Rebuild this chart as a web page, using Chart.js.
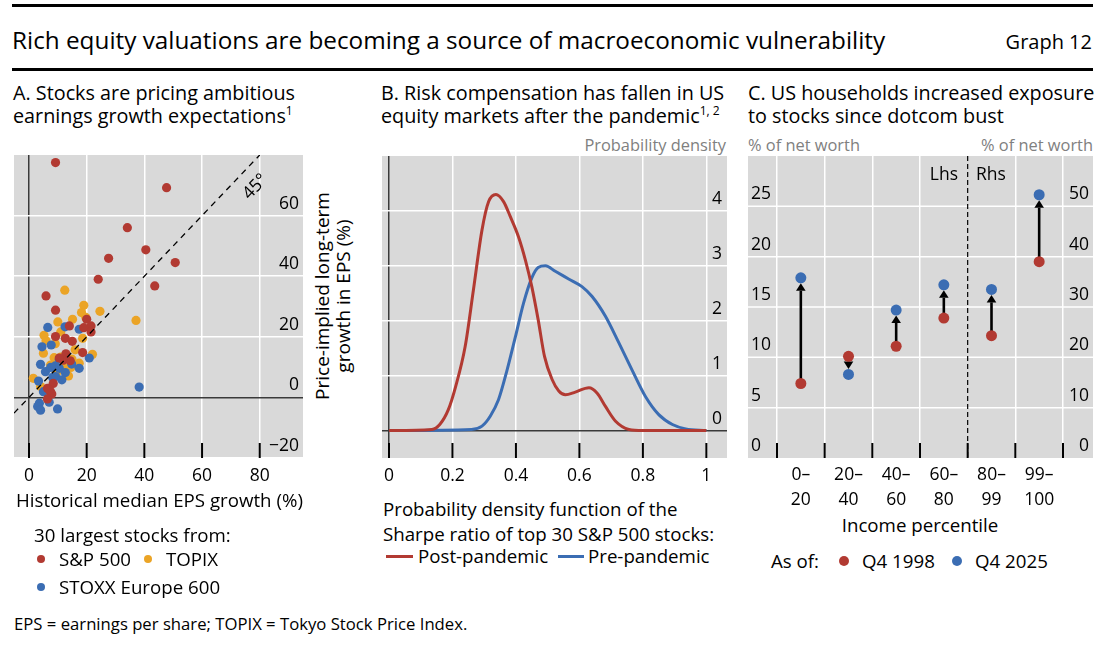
<!DOCTYPE html>
<html>
<head>
<meta charset="utf-8">
<script src="https://cdn.jsdelivr.net/npm/chart.js"></script>
<title>Graph 12</title>
<style>
  body { margin:0; width:1120px; height:646px; position:relative; overflow:hidden; background:#fff;
         font-family:'Open Sans', sans-serif; color:#000; }
  .t { position:absolute; white-space:nowrap; }
  .rule { position:absolute; left:12px; width:1081px; height:3px; background:#000; }
  .box { position:absolute; }
  .ptitle { font-size:19.8px; line-height:23px; }
  .unit { color:#808080; font-size:16.4px; line-height:20px; top:135px; }
  .lg { font-size:18.7px; line-height:22px; }
  .dot { position:absolute; border-radius:50%; }
  .sup { font-size:12px; vertical-align:8px; line-height:0; }
</style>
</head>
<body>
<div class="rule" style="top:4px"></div>
<div class="t" style="left:12px;top:26px;font-size:24.3px;line-height:28px">Rich equity valuations are becoming a source of macroeconomic vulnerability</div>
<div class="t" style="right:28px;top:28.5px;font-size:20px;line-height:26px">Graph 12</div>
<div class="rule" style="top:67.5px"></div>

<div class="t ptitle" style="left:13px;top:81px">A. Stocks are pricing ambitious<br>earnings growth expectations<span class="sup">1</span></div>
<div class="t ptitle" style="left:381px;top:81px">B. Risk compensation has fallen in US<br>equity markets after the pandemic<span class="sup">1, 2</span></div>
<div class="t ptitle" style="left:748px;top:81px">C. US households increased exposure<br>to stocks since dotcom bust</div>

<div class="t unit" style="right:394px">Probability density</div>
<div class="t unit" style="left:748px">% of net worth</div>
<div class="t unit" style="right:27px">% of net worth</div>

<div class="box" style="left:14px;top:155px;width:289px;height:335px"><canvas id="cA"></canvas></div>
<div class="box" style="left:382px;top:156px;width:345px;height:334px"><canvas id="cB"></canvas></div>
<div class="box" style="left:748px;top:156px;width:345px;height:356px"><canvas id="cC"></canvas></div>

<div class="t" style="left:333px;top:297px;width:0;height:0">
  <div style="position:absolute;left:-120px;top:-22px;width:240px;text-align:center;transform:rotate(-90deg);font-size:19px;line-height:21px">Price-implied long-term<br>growth in EPS (%)</div>
</div>

<div class="t lg" style="left:16px;top:489px">Historical median EPS growth (%)</div>
<div class="t lg" style="left:34px;top:524px">30 largest stocks from:</div>
<div class="dot" style="left:37px;top:555px;width:8px;height:8px;background:#b23a32"></div>
<div class="t lg" style="left:59px;top:548px">S&amp;P 500</div>
<div class="dot" style="left:144px;top:555px;width:8px;height:8px;background:#eba426"></div>
<div class="t lg" style="left:166px;top:548px">TOPIX</div>
<div class="dot" style="left:37px;top:583px;width:8px;height:8px;background:#3b6db3"></div>
<div class="t lg" style="left:59px;top:576px">STOXX Europe 600</div>

<div class="t lg" style="left:383px;top:496px;line-height:25px">Probability density function of the<br>Sharpe ratio of top 30 S&amp;P 500 stocks:</div>
<div style="position:absolute;left:386px;top:554.5px;width:27px;height:3px;background:#b23a32"></div>
<div class="t lg" style="left:418px;top:545px">Post-pandemic</div>
<div style="position:absolute;left:558px;top:554.5px;width:26px;height:3px;background:#3b6db3"></div>
<div class="t lg" style="left:588px;top:545px">Pre-pandemic</div>

<div class="t lg" style="left:820px;top:514px;width:200px;text-align:center">Income percentile</div>
<div class="t lg" style="left:771px;top:550px">As of:</div>
<div class="dot" style="left:839px;top:556px;width:10px;height:10px;background:#b23a32"></div>
<div class="t lg" style="left:862px;top:550px">Q4 1998</div>
<div class="dot" style="left:952px;top:556px;width:10px;height:10px;background:#3b6db3"></div>
<div class="t lg" style="left:975px;top:550px">Q4 2025</div>

<div class="t" style="left:929px;top:162px;width:29px;text-align:right;font-size:17.5px;line-height:22px">Lhs</div>
<div class="t" style="left:976px;top:162px;font-size:17.5px;line-height:22px">Rhs</div>

<div class="t" style="left:14px;top:614px;font-size:16.7px;line-height:20px">EPS = earnings per share; TOPIX = Tokyo Stock Price Index.</div>

<script>
// A: historical median vs price-implied EPS growth, %
var spX = [9.2, 47.7, 34.1, 40.5, 27.6, 50.7, 24, 43.6, 5.9, 9.2, 20, 14, 21.5, 19, 21.5, 9.2, 12.6, 15, 18.6, 12.8, 11.9, 14.3, 10.5, 8.4, 6.4, 7.5, 7.9, 6.4, 7];
var spY = [77.5, 69.2, 56, 48.7, 45.9, 44.5, 39, 36.8, 33.5, 28.8, 25.8, 23.6, 23.6, 23, 21.6, 20.1, 19.5, 18.5, 14.8, 14.4, 12.3, 12.1, 13, 4.6, 3, 1.9, 1.1, -0.5, 2.5];
var topixX = [12.4, 19, 18.2, 24.6, 19.7, 15.1, 10, 37.1, 11, 5.2, 5.9, 9.1, 18.6, 5, 16, 22, 8.7, 11, 14.9, 17.4, 14.5, 13.7, 1.5, 4, 7.5, 12, 9.5];
var topixY = [35.4, 30.4, 28, 28.4, 26.4, 25.8, 24.9, 25.4, 21.6, 20.5, 18.7, 17.7, 19.5, 14.6, 15.7, 14.2, 13.1, 13.3, 12.6, 11.3, 9.9, 7.1, 6.3, 3.6, 10.7, 10, 8];
var stoxxX = [38.2, 6.5, 12.5, 17.4, 4.5, 7.7, 20.9, 4, 10.5, 14.8, 17.4, 5.7, 7.5, 9.1, 10.5, 12.6, 8.2, 9.2, 11.4, 3.3, 5, 7, 3.6, 3, 4, 9.9];
var stoxxY = [3.4, 23.1, 23.3, 22.5, 16.7, 17.3, 13, 10.9, 12.6, 11, 9.6, 8.5, 9.9, 10.4, 9.6, 8.2, 6.6, 6.9, 5.8, 5.4, 1.9, -1.6, -1.9, -3, -4.2, -3.8];
var diagX = [-5.2, 80];
var epsTicks = [0, 20, 40, 60, 80];

// B: probability density of Sharpe ratios
var postX = [0, 0.135, 0.16, 0.187, 0.21, 0.24, 0.266, 0.293, 0.314, 0.337, 0.361, 0.382, 0.408, 0.43, 0.45, 0.47, 0.49, 0.514, 0.535, 0.556, 0.587, 0.63, 0.656, 0.682, 0.714, 0.756, 0.8, 1.0];
var postY = [0, 0.02, 0.11, 0.38, 0.8, 1.53, 2.56, 3.65, 4.17, 4.3, 4.17, 3.9, 3.53, 3.1, 2.62, 2.02, 1.35, 0.93, 0.72, 0.65, 0.7, 0.78, 0.68, 0.44, 0.17, 0.02, 0, 0];
var preX = [0, 0.26, 0.293, 0.319, 0.345, 0.372, 0.398, 0.424, 0.45, 0.47, 0.493, 0.524, 0.566, 0.608, 0.64, 0.682, 0.724, 0.766, 0.808, 0.85, 0.893, 0.935, 1.0];
var preY = [0, 0.02, 0.08, 0.26, 0.56, 1.1, 1.7, 2.32, 2.78, 2.97, 3.0, 2.9, 2.76, 2.62, 2.44, 2.08, 1.6, 1.1, 0.62, 0.29, 0.11, 0.03, 0];
var sharpeTicks = [0, 0.2, 0.4, 0.6, 0.8, 1];

// C: stocks as % of net worth by income percentile (last two bands on rhs)
var incomeBands = [['0–', '20'], ['20–', '40'], ['40–', '60'], ['60–', '80'], ['80–', '99'], ['99–', '100']];
var q1998 = [7.4, 10.1, 11.1, 13.9, 24.3, 39];
var q2025 = [17.9, 8.3, 14.7, 17.2, 33.5, 52.3];
var firstRhs = 4;

var RED = '#b23a32', BLUE = '#3b6db3', YELLOW = '#eba426', GREY = '#d9d9d9', NONE = 'rgba(0,0,0,0)';

Chart.defaults.font.family = "'Open Sans', sans-serif";
Chart.defaults.font.size = 17.5;
Chart.defaults.color = '#000';
Chart.defaults.animation = false;
Chart.defaults.events = [];
Chart.defaults.plugins.legend.display = false;
Chart.defaults.plugins.tooltip.enabled = false;

function pts(xs, ys) {
    return xs.map(function (x, i) { return {x: x, y: ys[i]}; });
}

function fixTicks(list) {
    return function (s) { s.ticks = list.map(function (v) { return {value: v}; }); };
}

// pin axis sizes and drop the label overhang chart.js adds to the plot edges
function pinX(h) {
    return function (s) { s.height = h; s.paddingLeft = 0; s.paddingRight = 0; };
}
function pinY(w) {
    return function (s) { s.width = w; s.paddingTop = 0; s.paddingBottom = 0; };
}

function gridCol(top) {
    return function (c) {
        if (!c.tick) return '#fff';
        if (c.tick.value === 0) return '#3a3a3a';
        if (c.tick.value === top) return NONE;
        return '#fff';
    };
}

// grey panel incl. label strip, plus short tick marks standing on the bottom edge
function panelBg(tickPixels) {
    return {
        id: 'panelBg',
        beforeDraw: function (chart) {
            var ctx = chart.ctx;
            ctx.save();
            ctx.fillStyle = GREY;
            ctx.fillRect(0, 0, chart.width, chart.chartArea.bottom);
            ctx.restore();
        },
        afterDraw: function (chart) {
            var ctx = chart.ctx, b = chart.chartArea.bottom;
            ctx.save();
            ctx.strokeStyle = '#000';
            ctx.lineWidth = 2;
            tickPixels(chart).forEach(function (px) {
                ctx.beginPath();
                ctx.moveTo(px, b - 15);
                ctx.lineTo(px, b);
                ctx.stroke();
            });
            ctx.restore();
        }
    };
}

function xTickPixels(chart) {
    var s = chart.scales.x;
    return s.ticks.map(function (t) { return s.getPixelForValue(t.value); });
}

var angleNote = {
    id: 'angleNote',
    afterDatasetsDraw: function (chart) {
        var x = chart.scales.x, y = chart.scales.y, ctx = chart.ctx;
        var a = Math.atan2(y.getPixelForValue(diagX[1]) - y.getPixelForValue(0), x.getPixelForValue(diagX[1]) - x.getPixelForValue(0));
        ctx.save();
        ctx.translate(x.getPixelForValue(78.5), y.getPixelForValue(69.5));
        ctx.rotate(a);
        ctx.font = "17.5px 'Open Sans', sans-serif";
        ctx.fillStyle = '#000';
        ctx.textAlign = 'center';
        ctx.textBaseline = 'middle';
        ctx.fillText('45°', 0, 0);
        ctx.restore();
    }
};

new Chart(document.getElementById('cA'), {
    type: 'scatter',
    data: {
        datasets: [
            {data: pts(diagX, diagX), showLine: true, borderColor: '#000', borderWidth: 1.3, borderDash: [6, 5], pointRadius: 0},
            {data: pts(spX, spY), pointBackgroundColor: RED, backgroundColor: RED, pointRadius: 4.6, pointBorderWidth: 0},
            {data: pts(stoxxX, stoxxY), pointBackgroundColor: BLUE, backgroundColor: BLUE, pointRadius: 4.6, pointBorderWidth: 0},
            {data: pts(topixX, topixY), pointBackgroundColor: YELLOW, backgroundColor: YELLOW, pointRadius: 4.6, pointBorderWidth: 0}
        ]
    },
    options: {
        responsive: true, maintainAspectRatio: false,
        layout: {padding: 0, autoPadding: false},
        scales: {
            x: {
                type: 'linear', min: -5.2, max: 95,
                border: {display: false},
                grid: {color: gridCol(null), lineWidth: 1.5, drawTicks: false},
                ticks: {padding: 8, maxRotation: 0},
                afterBuildTicks: fixTicks(epsTicks),
                afterFit: pinX(32)
            },
            y: {
                position: 'right', min: -20, max: 80,
                border: {display: false},
                grid: {color: gridCol(80), lineWidth: 1.5, drawTicks: false},
                ticks: {
                    stepSize: 20, mirror: true, padding: -4, labelOffset: -12,
                    callback: function (v) { return v === 80 ? '' : (v < 0 ? '\u2212' + (-v) : v); }
                },
                afterFit: pinY(0)
            }
        }
    },
    plugins: [panelBg(xTickPixels), angleNote]
});

new Chart(document.getElementById('cB'), {
    type: 'line',
    data: {
        datasets: [
            {data: pts(postX, postY), borderColor: RED, borderWidth: 3, pointRadius: 0, cubicInterpolationMode: 'monotone'},
            {data: pts(preX, preY), borderColor: BLUE, borderWidth: 3, pointRadius: 0, cubicInterpolationMode: 'monotone'}
        ]
    },
    options: {
        responsive: true, maintainAspectRatio: false,
        layout: {padding: 0, autoPadding: false},
        scales: {
            x: {
                type: 'linear', min: -0.022, max: 1.065,
                border: {display: false},
                grid: {color: gridCol(null), lineWidth: 1.5, drawTicks: false},
                ticks: {padding: 8, maxRotation: 0,
                        callback: function (v) { return +v.toFixed(1); }},
                afterBuildTicks: fixTicks(sharpeTicks),
                afterFit: pinX(32)
            },
            y: {
                position: 'right', min: -0.5, max: 5,
                border: {display: false},
                grid: {color: gridCol(5), lineWidth: 1.5, drawTicks: false},
                ticks: {stepSize: 1, mirror: true, padding: -5, labelOffset: -12,
                        callback: function (v) { return v === 5 ? '' : v; }},
                afterBuildTicks: fixTicks([0, 1, 2, 3, 4, 5]),
                afterFit: pinY(0)
            }
        }
    },
    plugins: [panelBg(xTickPixels)]
});

function bandEdges(chart) {
    var s = chart.scales.x, step = s.getPixelForValue(1) - s.getPixelForValue(0), out = [];
    for (var k = 0; k <= incomeBands.length; k++) out.push(s.getPixelForValue(0) + (k - 0.5) * step);
    return out;
}

var householdsOverlay = {
    id: 'householdsOverlay',
    beforeDatasetsDraw: function (chart) {
        var ctx = chart.ctx, area = chart.chartArea, yl = chart.scales.y;
        ctx.save();
        // horizontal grid across the whole grey panel
        ctx.strokeStyle = '#fff';
        ctx.lineWidth = 1.5;
        yl.ticks.forEach(function (t) {
            if (t.value <= yl.min || t.value >= yl.max) return;
            var py = yl.getPixelForValue(t.value);
            ctx.beginPath(); ctx.moveTo(0, py); ctx.lineTo(chart.width, py); ctx.stroke();
        });
        // lhs / rhs divider
        var edges = bandEdges(chart);
        ctx.strokeStyle = '#000';
        ctx.lineWidth = 1.2;
        ctx.setLineDash([5, 3]);
        ctx.beginPath(); ctx.moveTo(edges[firstRhs], 0); ctx.lineTo(edges[firstRhs], area.bottom); ctx.stroke();
        ctx.setLineDash([]);
        // arrows from Q4 1998 to Q4 2025
        var r = 5.5, head = 7.5, half = 4.8;
        ctx.fillStyle = '#000';
        ctx.lineWidth = 2.6;
        for (var i = 0; i < q1998.length; i++) {
            var sc = i < firstRhs ? chart.scales.y : chart.scales.y2;
            var px = chart.scales.x.getPixelForValue(i);
            var y0 = sc.getPixelForValue(q1998[i]), y1 = sc.getPixelForValue(q2025[i]);
            var dir = y1 > y0 ? 1 : -1;
            var tip = y1 - dir * r;
            ctx.beginPath(); ctx.moveTo(px, y0); ctx.lineTo(px, tip - dir * head); ctx.stroke();
            ctx.beginPath();
            ctx.moveTo(px, tip);
            ctx.lineTo(px - half, tip - dir * head);
            ctx.lineTo(px + half, tip - dir * head);
            ctx.closePath();
            ctx.fill();
        }
        ctx.restore();
    }
};

function side(vals, rhs) {
    return vals.map(function (v, i) { return (i >= firstRhs) === rhs ? v : null; });
}

var dotStyle = {showLine: false, pointRadius: 5.5, pointBorderWidth: 0};
new Chart(document.getElementById('cC'), {
    type: 'line',
    data: {
        labels: incomeBands,
        datasets: [
            Object.assign({data: side(q2025, false), yAxisID: 'y', pointBackgroundColor: BLUE, backgroundColor: BLUE}, dotStyle),
            Object.assign({data: side(q1998, false), yAxisID: 'y', pointBackgroundColor: RED, backgroundColor: RED}, dotStyle),
            Object.assign({data: side(q2025, true), yAxisID: 'y2', pointBackgroundColor: BLUE, backgroundColor: BLUE}, dotStyle),
            Object.assign({data: side(q1998, true), yAxisID: 'y2', pointBackgroundColor: RED, backgroundColor: RED}, dotStyle)
        ]
    },
    options: {
        responsive: true, maintainAspectRatio: false,
        layout: {padding: {left: 3, right: 4, top: 0, bottom: 0}, autoPadding: false},
        scales: {
            x: {
                type: 'category', offset: true,
                border: {display: false},
                grid: {offset: true, lineWidth: 1.5, drawTicks: false,
                       color: function (c) { return c.index === firstRhs ? NONE : '#fff'; }},
                ticks: {padding: 5, maxRotation: 0, autoSkip: false, font: {lineHeight: 1.4}},
                afterFit: pinX(54)
            },
            y: {
                position: 'left', min: 0, max: 30,
                border: {display: false}, grid: {display: false},
                ticks: {stepSize: 5, crossAlign: 'far', labelOffset: -12,
                        callback: function (v) { return v === 30 ? '' : v; }},
                afterFit: pinY(26)
            },
            y2: {
                position: 'right', min: 0, max: 60,
                border: {display: false}, grid: {display: false},
                ticks: {stepSize: 10, crossAlign: 'far', labelOffset: -12,
                        callback: function (v) { return v === 60 ? '' : v; }},
                afterFit: pinY(26)
            }
        }
    },
    plugins: [panelBg(bandEdges), householdsOverlay]
});
</script>
</body>
</html>
